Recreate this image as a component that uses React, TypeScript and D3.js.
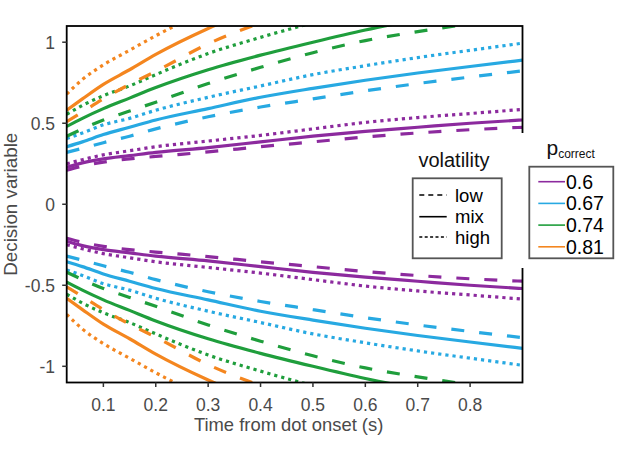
import React from 'react';
import * as d3 from 'd3';

// time grid (s) the bounds were read at
const timeS = [0.03, 0.06, 0.1, 0.15, 0.2, 0.3, 0.4, 0.5, 0.6, 0.7, 0.8, 0.9];

// upper decision bound per p(correct) and volatility; lower bound is its mirror
// null = beyond the plotted range
const p060Low = [0.21, 0.235, 0.26, 0.28, 0.295, 0.323, 0.355, 0.385, 0.415, 0.44, 0.46, 0.475];
const p060Mix = [0.228, 0.255, 0.28, 0.3, 0.32, 0.35, 0.385, 0.42, 0.45, 0.475, 0.5, 0.52];
const p060High = [0.25, 0.275, 0.305, 0.33, 0.355, 0.39, 0.425, 0.465, 0.505, 0.535, 0.56, 0.585];

const p067Low = [0.32, 0.345, 0.38, 0.42, 0.465, 0.54, 0.6, 0.65, 0.7, 0.745, 0.785, 0.823];
const p067Mix = [0.355, 0.385, 0.43, 0.475, 0.52, 0.59, 0.66, 0.715, 0.765, 0.81, 0.85, 0.889];
const p067High = [0.405, 0.44, 0.49, 0.53, 0.58, 0.66, 0.73, 0.8, 0.855, 0.905, 0.95, 0.994];

const p074Low = [0.42, 0.465, 0.52, 0.575, 0.63, 0.745, 0.845, 0.935, 1.01, 1.065, 1.115, null];
const p074Mix = [0.48, 0.53, 0.59, 0.655, 0.72, 0.83, 0.92, 1.0, 1.075, 1.14, null, null];
const p074High = [0.555, 0.61, 0.67, 0.73, 0.8, 0.93, 1.03, 1.12, null, null, null, null];

const p081Low = [0.51, 0.57, 0.65, 0.74, 0.82, 0.99, 1.12, null, null, null, null, null];
const p081Mix = [0.58, 0.65, 0.74, 0.83, 0.925, 1.085, 1.22, null, null, null, null, null];
const p081High = [0.68, 0.77, 0.86, 0.95, 1.04, 1.2, null, null, null, null, null, null];

const pCorrectLabels = ['0.6', '0.67', '0.74', '0.81'];
const volatilityLabels = ['low', 'mix', 'high'];
const boundValues = [
  [p060Low, p060Mix, p060High],
  [p067Low, p067Mix, p067High],
  [p074Low, p074Mix, p074High],
  [p081Low, p081Mix, p081High],
];

const xTicks = [0.1, 0.2, 0.3, 0.4, 0.5, 0.6, 0.7, 0.8];
const yTicks = [-1, -0.5, 0, 0.5, 1];

const colors = ['#8c2a9e', '#27a9e2', '#1f9e3c', '#f4861f'];
const dashes = ['13 15', null, '3.2 4'];
const legendDashes = ['5 4', null, '3 2.4'];

const width = 617;
const height = 462;
const margin = { top: 26, right: 94.5, bottom: 79.5, left: 66.7 };
const font = '"Liberation Sans", Arial, Helvetica, sans-serif';

export default function App() {
  const innerW = width - margin.left - margin.right;
  const innerH = height - margin.top - margin.bottom;

  const x = d3.scaleLinear().domain([0.03, 0.9]).range([margin.left, margin.left + innerW]);
  const y = d3.scaleLinear().domain([-1.1, 1.1]).range([margin.top + innerH, margin.top]);

  const line = d3.line<[number, number]>()
    .x(d => x(d[0]))
    .y(d => y(d[1]))
    .curve(d3.curveMonotoneX);

  const curves: { key: string; color: string; dash: string | null; d: string }[] = [];
  boundValues.forEach((group, pi) => {
    group.forEach((vals, vi) => {
      const pts = timeS
        .map((t, i) => [t, vals[i]] as [number, number | null])
        .filter(p => p[1] !== null) as [number, number][];
      [1, -1].forEach(sign => {
        curves.push({
          key: `${pi}-${vi}-${sign}`,
          color: colors[pi],
          dash: dashes[vi],
          d: line(pts.map(p => [p[0], sign * p[1]] as [number, number])) || '',
        });
      });
    });
  });

  const x0 = margin.left;
  const x1 = margin.left + innerW;
  const y0 = margin.top;
  const y1 = margin.top + innerH;

  // legend geometry
  const volBox = { x: 412.7, y: 178.3, w: 89, h: 80 };
  const volRows = [195, 216.7, 237];
  const pBox = { x: 529.3, y: 166.7, w: 84, h: 91.6 };
  const pRows = [181.7, 203.4, 225.1, 246.8];

  return (
    <svg width={width} height={height} style={{ position: 'absolute', left: 0, top: 0, background: '#fff' }}
      fontFamily={font}>
      <defs>
        <clipPath id="plot-clip">
          <rect x={x0} y={y0} width={innerW} height={innerH} />
        </clipPath>
      </defs>

      <g clipPath="url(#plot-clip)">
        {curves.map(c => (
          <path key={c.key} d={c.d} fill="none" stroke={c.color} strokeWidth={3.2}
            strokeDasharray={c.dash || undefined} />
        ))}
      </g>

      {/* frame */}
      <rect x={x0} y={y0} width={innerW} height={innerH} fill="none" stroke="#000" strokeWidth={1.8} />
      {/* the legend background hides part of the right edge */}
      <rect x={505} y={133} width={112} height={135} fill="#fff" />

      {/* y axis */}
      {yTicks.map(v => (
        <g key={v}>
          <line x1={x0 - 4.5} x2={x0} y1={y(v)} y2={y(v)} stroke="#333" strokeWidth={1.5} />
          <text x={55} y={y(v)} dy="0.36em" textAnchor="end" fontSize={17.5} fill="#4a4a4a">{v}</text>
        </g>
      ))}
      {/* x axis */}
      {xTicks.map(v => (
        <g key={v}>
          <line x1={x(v)} x2={x(v)} y1={y1} y2={y1 + 4.5} stroke="#333" strokeWidth={1.5} />
          <text x={x(v)} y={410.7} textAnchor="middle" fontSize={17.5} fill="#4a4a4a">{v}</text>
        </g>
      ))}

      <text x={(x0 + x1) / 2 - 6} y={431} textAnchor="middle" fontSize={18.4} fill="#4a4a4a">
        Time from dot onset (s)
      </text>
      <text transform={`translate(16.5,${y(0)}) rotate(-90)`} textAnchor="middle" fontSize={18.8} fill="#4a4a4a">
        Decision variable
      </text>

      {/* volatility legend */}
      <text x={454} y={166.7} textAnchor="middle" fontSize={20} fill="#111">volatility</text>
      <rect x={volBox.x} y={volBox.y} width={volBox.w} height={volBox.h} fill="#fff" stroke="#555" strokeWidth={1.8} />
      {volatilityLabels.map((lab, i) => (
        <g key={lab}>
          <line x1={419.3} x2={446.7} y1={volRows[i]} y2={volRows[i]} stroke="#000" strokeWidth={1.6}
            strokeDasharray={legendDashes[i] || undefined} />
          <text x={455} y={volRows[i]} dy="0.36em" fontSize={18.5} fill="#000">{lab}</text>
        </g>
      ))}

      {/* p correct legend */}
      <text x={546.5} y={155} fontSize={21} fill="#111">
        p<tspan fontSize={12} dy={3}>correct</tspan>
      </text>
      <rect x={pBox.x} y={pBox.y} width={pBox.w} height={pBox.h} fill="#fff" stroke="#555" strokeWidth={1.8} />
      {pCorrectLabels.map((lab, i) => (
        <g key={lab}>
          <line x1={538.3} x2={565} y1={pRows[i]} y2={pRows[i]} stroke={colors[i]} strokeWidth={1.6} />
          <text x={566} y={pRows[i]} dy="0.36em" fontSize={19.5} fill="#000">{lab}</text>
        </g>
      ))}
    </svg>
  );
}
